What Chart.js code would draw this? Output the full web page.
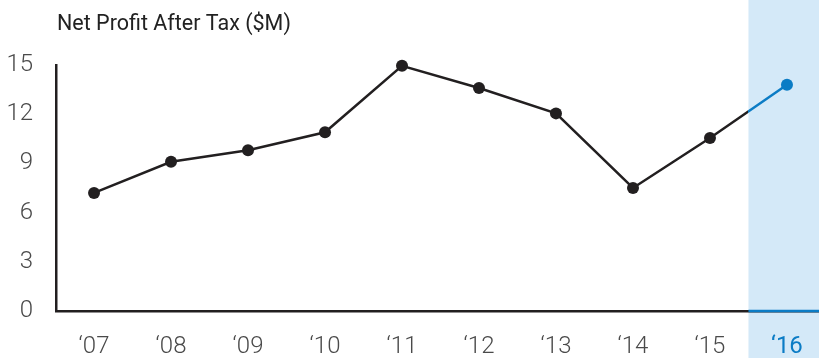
<!DOCTYPE html>
<html>
<head>
<meta charset="utf-8">
<script src="https://cdn.jsdelivr.net/npm/chart.js@4"></script>
<style>
html,body{margin:0;padding:0;background:#fff;overflow:hidden;}
#wrap{width:819px;height:358px;position:relative;}
</style>
</head>
<body>
<div id="wrap"><canvas id="c" width="819" height="358"></canvas></div>
<script>
const categories = ['\u201807','\u201808','\u201809','\u201810','\u201811','\u201812','\u201813','\u201814','\u201815','\u201816'];
const profit = [7.2, 9.1, 9.8, 10.9, 14.95, 13.6, 12.05, 7.5, 10.55, 13.8];
const yTicks = [0, 3, 6, 9, 12, 15];
const titleText = 'Net Profit After Tax ($M)';
const highlightIndex = 9;

const DARK = '#221f20';
const BLUE = '#0b7cc5';
const BAND = '#d4e9f8';
const GRAY = '#4a4a4a';
const FONT = 'Roboto, "Liberation Sans", Arial, sans-serif';

const bandStart = highlightIndex - 0.5;

function lineColor(ctx) {
  const chart = ctx.chart;
  const area = chart.chartArea;
  if (!area) return DARK;
  const x = chart.scales.x.getPixelForValue(bandStart);
  const g = chart.ctx.createLinearGradient(area.left, 0, area.right, 0);
  const f = Math.min(Math.max((x - area.left) / (area.right - area.left), 0), 1);
  g.addColorStop(0, DARK);
  g.addColorStop(f, DARK);
  g.addColorStop(f, BLUE);
  g.addColorStop(1, BLUE);
  return g;
}

const bandPlugin = {
  id: 'band',
  beforeDraw(chart) {
    const c = chart.ctx;
    const x = chart.scales.x.getPixelForValue(bandStart);
    c.save();
    c.fillStyle = BAND;
    c.fillRect(x, 0, chart.width - x, chart.height);
    c.restore();
  },
  afterDraw(chart) {
    const c = chart.ctx;
    const xs = chart.scales.x;
    const x = xs.getPixelForValue(bandStart);
    const y = chart.chartArea.bottom;
    c.save();
    c.strokeStyle = BLUE;
    c.lineWidth = 2.5;
    c.lineCap = 'butt';
    c.beginPath();
    c.moveTo(x, y);
    c.lineTo(chart.width + 2, y);
    c.stroke();
    c.fillStyle = '#222222';
    c.font = '400 21.5px ' + FONT;
    c.textBaseline = 'middle';
    c.textAlign = 'left';
    c.fillText(titleText, 57, 25);
    c.restore();
  }
};

new Chart(document.getElementById('c'), {
  type: 'line',
  data: {
    datasets: [{
      data: profit.map((v, i) => ({x: i, y: v})),
      borderColor: lineColor,
      borderWidth: 2.5,
      pointRadius: 6,
      pointHoverRadius: 6,
      pointBorderWidth: 0,
      pointBackgroundColor: profit.map((v, i) => i === highlightIndex ? BLUE : DARK),
      pointBorderColor: profit.map((v, i) => i === highlightIndex ? BLUE : DARK),
      tension: 0,
      clip: false
    }]
  },
  options: {
    responsive: false,
    animation: false,
    events: [],
    layout: {autoPadding: false, padding: {top: 65, left: 0, right: 0, bottom: 0}},
    plugins: {legend: {display: false}, tooltip: {enabled: false}, title: {display: false}},
    scales: {
      x: {
        type: 'linear',
        min: -0.494,
        max: 9.416,
        afterBuildTicks(s) { s.ticks = categories.map((c, i) => ({value: i})); },
        afterFit(s) { s.height = 47; s.paddingLeft = 0; s.paddingRight = 0; },
        grid: {display: false},
        border: {display: true, color: DARK, width: 2.5},
        ticks: {
          autoSkip: false,
          maxRotation: 0,
          padding: 14,
          font: (ctx) => ({family: FONT, size: 24, weight: ctx.index === highlightIndex ? 400 : 300}),
          color: (ctx) => ctx.index === highlightIndex ? BLUE : GRAY,
          callback: (v) => categories[v]
        }
      },
      y: {
        min: 0,
        max: 15,
        afterBuildTicks(s) { s.ticks = yTicks.map(v => ({value: v})); },
        afterFit(s) { s.width = 56; },
        grid: {display: false},
        border: {display: true, color: DARK, width: 2.5},
        ticks: {
          padding: 15,
          font: {family: FONT, size: 24, weight: 300},
          color: GRAY
        }
      }
    }
  },
  plugins: [bandPlugin]
});
</script>
</body>
</html>
